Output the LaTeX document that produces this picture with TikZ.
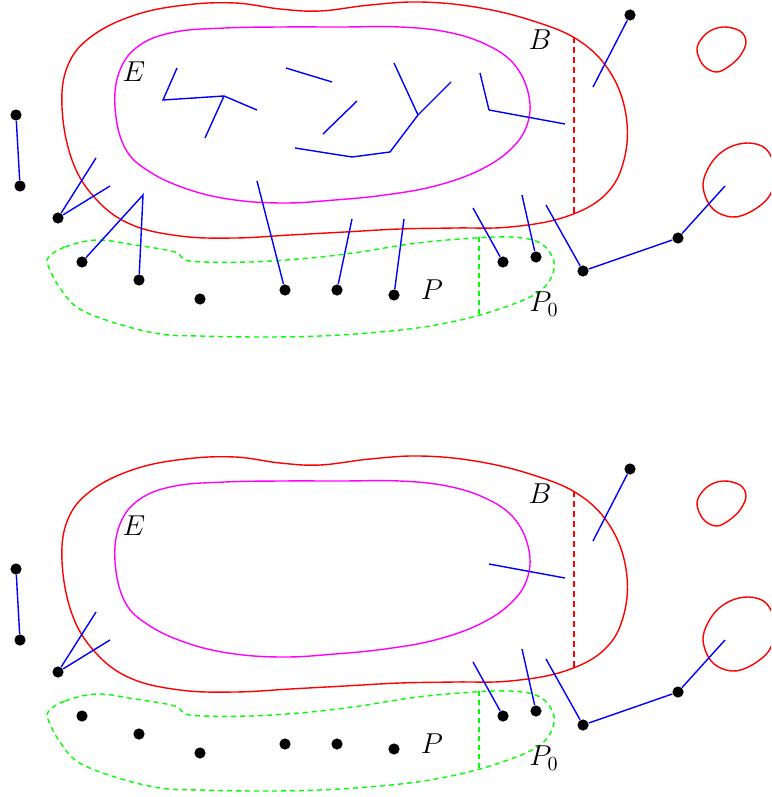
\documentclass[tikz,border=0pt]{standalone}
\usepackage{amsmath, amssymb}
\tikzset{>=latex}
\definecolor{pink}{RGB}{255,0,255}
\tikzset{dot/.style={circle,fill=black,inner sep=0pt,minimum size=5.6pt},
  lab/.style={font=\Large}}

\begin{document}
\begin{tikzpicture}[x=0.5pt,y=-0.5pt]
\useasboundingbox (0,0) rectangle (771,797);
\clip (0,0) rectangle (771,797);

\foreach \s in {0,454}{
\begin{scope}[shift={(0,\s)}]

% the regions
\draw[color=red, line width=0.7] plot[smooth cycle, tension=0.65] coordinates {
  (62,107) (68,65) (92,36) (135,15) (185,5) (235,3) (280,9) (320,11) (370,5)
  (420,2) (475,7) (530,20) (578,40) (610,72) (626,115) (624,160) (605,195)
  (565,217) (510,227) (455,228) (400,229) (345,232) (290,235) (235,238)
  (180,236) (130,224) (95,198) (72,160)};
\draw[color=pink, line width=0.7] plot[smooth cycle, tension=0.65] coordinates {
  (115,107) (120,70) (140,45) (175,32) (225,28) (280,27) (340,27) (400,27)
  (447,32) (485,44) (513,63) (528,92) (528,122) (512,148) (480,170) (435,186)
  (385,195) (335,200) (285,203) (235,200) (190,190) (150,172) (125,148)};
\draw[color=green, line width=0.7, dash pattern=on 2.5pt off 2pt] plot[smooth cycle, tension=0.6] coordinates {
  (48,258) (65,247) (97,240) (135,245) (175,252) (190,261) (250,262) (310,258)
  (360,252) (410,244) (460,239) (510,237) (540,243) (554,262) (548,283)
  (528,298) (480,315) (430,326) (380,332) (320,336) (260,337) (200,336)
  (160,334) (115,323) (78,308) (60,288) (50,270)};
\draw[color=red, line width=0.7] plot[smooth cycle, tension=0.6] coordinates {
  (697,48) (707,33) (723,27) (740,31) (746,42) (740,56) (728,67) (716,72) (703,65)};
\draw[color=red, line width=0.7] plot[smooth cycle, tension=0.6] coordinates {
  (703,185) (712,162) (728,148) (748,143) (766,149) (775,170) (770,195)
  (752,211) (732,217) (712,208)};

\draw[color=red, line width=0.7, dash pattern=on 3pt off 2pt] (574,37)--(574,213);
\draw[color=green, line width=0.7, dash pattern=on 2.5pt off 2pt] (479,237)--(479,314);

\node[lab] (lE) at (134,72) {$E$};
\node[lab] (lB) at (540,40) {$B$};
\node[lab] (lP) at (432,290) {$P$};
\node[lab] (lP0) at (544,304) {$P_0$};

% the points
\node[dot] (d1) at (16,115) {};
\node[dot] (d2) at (20,186) {};
\node[dot] (d3) at (58,218) {};
\node[dot] (d4) at (82,262) {};
\node[dot] (d5) at (139,280) {};
\node[dot] (d6) at (200,299) {};
\node[dot] (d7) at (285,290) {};
\node[dot] (d8) at (337,290) {};
\node[dot] (d9) at (394,295) {};
\node[dot] (d10) at (503,262) {};
\node[dot] (d11) at (536,257) {};
\node[dot] (d12) at (583,271) {};
\node[dot] (d13) at (678,238) {};
\node[dot] (d14) at (630,15) {};

\coordinate (e3a) at (96,158);
\coordinate (e3b) at (110,186);
\coordinate (e10) at (473,208);
\coordinate (e11) at (522,195);
\coordinate (e12) at (546,205);
\coordinate (e13) at (725,186);
\coordinate (e14) at (593,87);
\coordinate (k1) at (489,110);
\coordinate (k2) at (565,124);

\draw[color=blue, line width=0.7] (d1)--(d2);
\draw[color=blue, line width=0.7] (e3a)--(d3)--(e3b);
\draw[color=blue, line width=0.7] (d10)--(e10);
\draw[color=blue, line width=0.7] (d11)--(e11);
\draw[color=blue, line width=0.7] (e12)--(d12)--(d13)--(e13);
\draw[color=blue, line width=0.7] (d14)--(e14);
\draw[color=blue, line width=0.7] (k1)--(k2);

\ifnum\s=0
  \coordinate (e4) at (143,195);
  \coordinate (e7) at (257,181);
  \coordinate (e8) at (352,219);
  \coordinate (e9) at (404,219);
  \coordinate (k0) at (480,73);
  \draw[color=blue, line width=0.7] (d4)--(e4)--(d5);
  \draw[color=blue, line width=0.7] (d7)--(e7);
  \draw[color=blue, line width=0.7] (d8)--(e8);
  \draw[color=blue, line width=0.7] (d9)--(e9);
  \draw[color=blue, line width=0.7] (k0)--(k1);
  % pieces inside E
  \draw[color=blue, line width=0.7] (177,68)--(163,100)--(224,96)--(257,110);
  \draw[color=blue, line width=0.7] (224,96)--(205,138);
  \draw[color=blue, line width=0.7] (286,68)--(332,82);
  \draw[color=blue, line width=0.7] (357,101)--(323,134);
  \draw[color=blue, line width=0.7] (295,148)--(352,157)--(390,152)--(418,115)--(451,82);
  \draw[color=blue, line width=0.7] (418,115)--(394,63);
\fi

\end{scope}
}

\end{tikzpicture}
\end{document}
